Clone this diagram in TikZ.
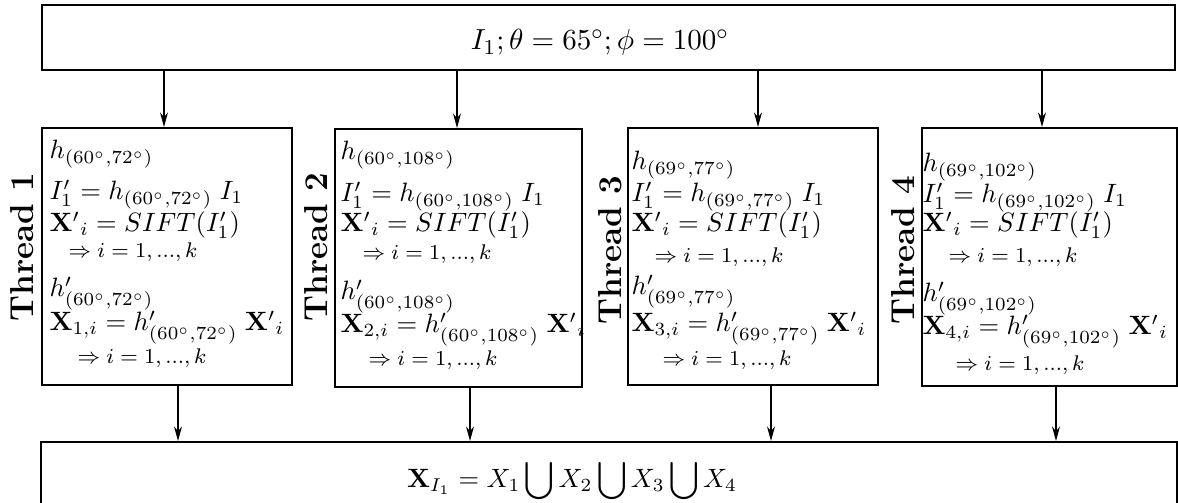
\documentclass[tikz,border=0pt]{standalone}
\usetikzlibrary{arrows.meta}
\newlength\px
\setlength\px{0.377pt}
\begin{document}
\begin{tikzpicture}[x=0.377pt,y=-0.377pt,
  box/.style={draw, line width=0.6pt, inner sep=0pt, anchor=north west},
  ln/.style={anchor=base west, inner sep=0pt},
  sm/.style={anchor=base west, inner sep=0pt, font=\footnotesize},
  thr/.style={rotate=90, font=\fontsize{12.5pt}{15pt}\selectfont\bfseries, inner sep=0pt},
  arr/.style={-{Stealth[length=5.5pt,width=3pt,inset=1.8pt]}, line width=0.45pt}]
\useasboundingbox (0,0) rectangle (1178,503);
\clip (0,0) rectangle (1178,503);
% boxes
\node[box, minimum width=1133*\px, minimum height=65*\px] (top) at (41,4) {};
\node[box, minimum width=250*\px, minimum height=257*\px] (b1) at (41,127) {};
\node[box, minimum width=247*\px, minimum height=258*\px] (b2) at (334,128) {};
\node[box, minimum width=250*\px, minimum height=257*\px] (b3) at (627,127) {};
\node[box, minimum width=255*\px, minimum height=258*\px] (b4) at (921,127) {};
\node[box, minimum width=1136*\px, minimum height=120*\px] (bot) at (40,441) {};
% top / bottom texts
\node[anchor=base, inner sep=0pt, font=\fontsize{11pt}{13pt}\selectfont] (toptxt) at (600,50) {$I_1;\theta=65^\circ;\phi=100^\circ$};
\node[anchor=base, inner sep=0pt] (bottxt) at (572,488) {$\displaystyle\mathbf{X}_{I_1}=X_1\bigcup X_2\bigcup X_3\bigcup X_4$};
% thread labels
\node[thr] (th1) at (22,247) {Thread 1};
\node[thr] (th2) at (316,247) {Thread 2};
\node[thr] (th3) at (610,250) {Thread 3};
\node[thr] (th4) at (903,250) {Thread 4};
% box 1
\node[ln] (l1a) at (49,159) {$h_{(60^\circ,72^\circ)}$};
\node[ln] (l1b) at (49,200) {$I'_1=h_{(60^\circ,72^\circ)}\;I_1$};
\node[ln] (l1c) at (49,232) {${\mathbf{X}'}_i=SIFT(I'_1)$};
\node[sm] (l1d) at (68,258) {$\Rightarrow i=1,...,k$};
\node[ln] (l1e) at (49,297) {$h'_{(60^\circ,72^\circ)}$};
\node[ln] (l1f) at (49,331) {$\mathbf{X}_{1,i}=h'_{(60^\circ,72^\circ)}\;{\mathbf{X}'}_i$};
\node[sm] (l1g) at (77,364) {$\Rightarrow i=1,...,k$};
% box 2
\node[ln] (l2a) at (340,160) {$h_{(60^\circ,108^\circ)}$};
\node[ln] (l2b) at (340,202) {$I'_1=h_{(60^\circ,108^\circ)}\;I_1$};
\node[ln] (l2c) at (340,232) {${\mathbf{X}'}_i=SIFT(I'_1)$};
\node[sm] (l2d) at (362,260) {$\Rightarrow i=1,...,k$};
\node[ln] (l2e) at (340,300) {$h'_{(60^\circ,108^\circ)}$};
\node[ln] (l2f) at (340,333) {$\mathbf{X}_{2,i}=h'_{(60^\circ,108^\circ)}\;{\mathbf{X}'}_i$};
\node[sm] (l2g) at (368,366) {$\Rightarrow i=1,...,k$};
% box 3
\node[ln] (l3a) at (631,170) {$h_{(69^\circ,77^\circ)}$};
\node[ln] (l3b) at (631,202) {$I'_1=h_{(69^\circ,77^\circ)}\;I_1$};
\node[ln] (l3c) at (631,232) {${\mathbf{X}'}_i=SIFT(I'_1)$};
\node[sm] (l3d) at (654,263) {$\Rightarrow i=1,...,k$};
\node[ln] (l3e) at (631,295) {$h'_{(69^\circ,77^\circ)}$};
\node[ln] (l3f) at (631,332) {$\mathbf{X}_{3,i}=h'_{(69^\circ,77^\circ)}\;{\mathbf{X}'}_i$};
\node[sm] (l3g) at (662,366) {$\Rightarrow i=1,...,k$};
% box 4
\node[ln] (l4a) at (922,172) {$h_{(69^\circ,102^\circ)}$};
\node[ln] (l4b) at (922,203) {$I'_1=h_{(69^\circ,102^\circ)}\;I_1$};
\node[ln] (l4c) at (922,232) {${\mathbf{X}'}_i=SIFT(I'_1)$};
\node[sm] (l4d) at (948,263) {$\Rightarrow i=1,...,k$};
\node[ln] (l4e) at (922,302) {$h'_{(69^\circ,102^\circ)}$};
\node[ln] (l4f) at (922,335) {$\mathbf{X}_{4,i}=h'_{(69^\circ,102^\circ)}\;{\mathbf{X}'}_i$};
\node[sm] (l4g) at (955,371) {$\Rightarrow i=1,...,k$};
% arrow positions
\coordinate (c1) at (164,0);
\coordinate (c2) at (457,0);
\coordinate (c3) at (758,0);
\coordinate (c4) at (1042,0);
\coordinate (d1) at (178,0);
\coordinate (d2) at (470,0);
\coordinate (d3) at (771,0);
\coordinate (d4) at (1056,0);
\draw[arr] (top.south -| c1) -- (b1.north -| c1);
\draw[arr] (top.south -| c2) -- (b2.north -| c2);
\draw[arr] (top.south -| c3) -- (b3.north -| c3);
\draw[arr] (top.south -| c4) -- (b4.north -| c4);
\draw[arr] (b1.south -| d1) -- (bot.north -| d1);
\draw[arr] (b2.south -| d2) -- (bot.north -| d2);
\draw[arr] (b3.south -| d3) -- (bot.north -| d3);
\draw[arr] (b4.south -| d4) -- (bot.north -| d4);
\end{tikzpicture}
\end{document}
